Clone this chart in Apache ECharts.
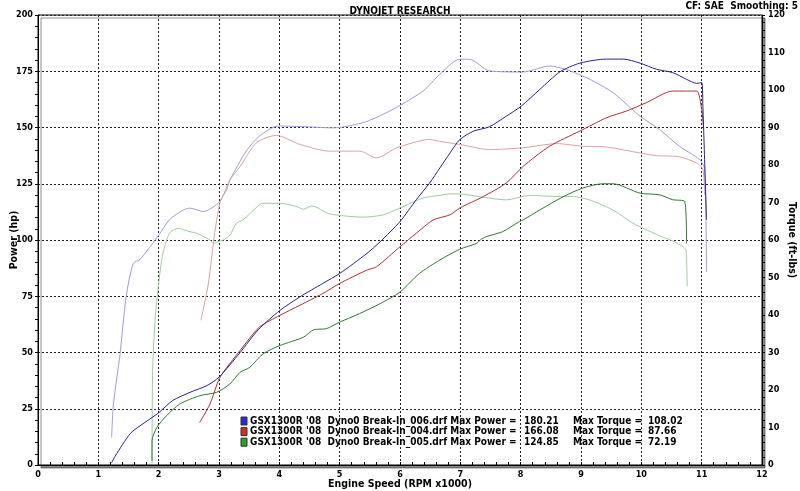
<!DOCTYPE html>
<html><head><meta charset="utf-8">
<script src="https://cdn.jsdelivr.net/npm/echarts@6/dist/echarts.min.js"></script>
<style>html,body{margin:0;padding:0;background:#fff}#c{width:800px;height:491px}</style>
</head><body><div id="c"></div>
<script>
// ---- data: [rpm x1000, value] ----
const run006Power = [[1.22,1],[1.28,4],[1.53,14],[1.69,17.4],[1.99,23],[2.23,28.6],[2.52,32.3],[2.80,35.3],[3.00,39],[3.35,50],[3.65,60.1],[4.01,68.7],[4.34,74.7],[4.72,80.7],[5.00,85.1],[5.45,94],[5.67,99.2],[6.00,108.2],[6.27,117.9],[6.49,125.3],[6.66,132],[6.83,138.7],[6.99,144.6],[7.22,148.4],[7.48,150.3],[7.76,155],[8.01,159.5],[8.32,167],[8.65,174.7],[8.98,178.6],[9.42,180.4],[9.70,180.4],[9.98,178.6],[10.25,175.9],[10.52,174.4],[10.75,171.4],[10.92,169.6],[11.00,170],[11.02,159.5],[11.08,109]];
const run006Torque = [[1.22,7.3],[1.25,16.2],[1.36,29.6],[1.46,44.8],[1.58,53.8],[1.69,54.8],[2.00,61.3],[2.18,65.4],[2.41,68],[2.52,68.5],[2.74,67.6],[3.01,70.2],[3.18,76],[3.45,83.7],[3.67,87.7],[3.98,90.4],[4.45,90.2],[4.89,89.9],[5.39,91.3],[5.83,94.4],[6.38,99.7],[6.66,104.2],[6.99,108.2],[7.15,108.2],[7.48,105.1],[8.04,104.8],[8.48,106.4],[8.75,105.5],[9.14,102.9],[9.53,99.3],[9.98,93],[10.30,89.5],[10.63,85],[10.97,81.4],[11.05,78.8],[11.08,51.5]];
const run004Power = [[2.68,18.9],[2.85,27.1],[2.99,37.5],[3.07,41.2],[3.35,50.9],[3.67,61.3],[4.01,66.5],[4.34,71],[4.72,76.2],[5.00,80.7],[5.45,86.6],[5.61,88.1],[6.00,97],[6.27,103],[6.55,108.9],[6.83,111.2],[6.99,114.2],[7.38,119.3],[7.76,125.3],[8.04,132.7],[8.48,141.7],[8.98,148.4],[9.42,154.3],[9.75,157.3],[10.08,161],[10.52,166.2],[10.75,166.2],[10.92,166.2],[11.00,158],[11.03,150]];
const run004Torque = [[2.70,38.6],[2.82,48],[2.93,62],[3.03,70.7],[3.13,73.4],[3.18,76],[3.35,79.6],[3.62,85.9],[3.95,87.9],[4.34,85.5],[4.83,83.7],[5.33,83.7],[5.61,81.9],[5.95,84.6],[6.49,86.8],[6.66,86.3],[6.99,85.5],[7.48,84.1],[8.04,84.6],[8.60,85.7],[9.03,85],[9.42,84.8],[9.98,83.2],[10.25,82.5],[10.63,82.2],[10.92,80.5],[11.02,78.8],[11.05,72]];
const run005Power = [[1.89,1.8],[1.89,10.7],[1.97,16.7],[2.13,21.9],[2.35,27.1],[2.68,30.8],[2.96,32.3],[3.18,36],[3.35,41.2],[3.51,43.4],[3.73,49.4],[4.01,53.1],[4.40,56.8],[4.57,60.1],[4.78,60.6],[5.00,63.5],[5.33,67.3],[5.67,71.7],[6.00,76.9],[6.32,85.1],[6.66,91.1],[6.99,95.9],[7.27,98.5],[7.33,100],[7.43,101.5],[7.70,103.7],[7.98,108.2],[8.04,108.9],[8.32,113.4],[8.71,119.3],[9.03,123.1],[9.36,125],[9.53,125],[9.98,120.8],[10.30,120.1],[10.52,117.9],[10.72,117.1],[10.75,98.5]];
const run005Torque = [[1.89,0.2],[1.90,25.2],[1.94,38.6],[2.00,48.4],[2.07,56.4],[2.18,61.8],[2.32,63.1],[2.52,62.2],[2.63,61.8],[2.85,60],[2.91,59.1],[2.99,59.6],[3.07,60],[3.18,61.3],[3.29,64.5],[3.40,65.4],[3.67,69.4],[3.73,69.8],[4.01,69.8],[4.29,68.9],[4.40,68.2],[4.54,69.1],[4.83,67],[5.39,66.1],[5.72,66.7],[6.05,68.9],[6.38,71.2],[6.66,71.9],[6.83,72.3],[7.05,72.2],[7.38,71.4],[7.76,70.7],[8.15,71.9],[8.60,71.6],[8.86,71.6],[9.14,70.7],[9.53,68],[9.86,64.5],[10.25,61.5],[10.55,59.5],[10.69,58.2],[10.74,57.3],[10.76,47.6]];

const legendRuns = ["GSX1300R '08  Dyno0 Break-In_006.drf", "GSX1300R '08  Dyno0 Break-In_004.drf", "GSX1300R '08  Dyno0 Break-In_005.drf"];
const legendMaxPower = ["180.21", "166.08", "124.85"];
const legendMaxTorque = ["108.02", "87.66", "72.19"];

const powerColors = ['#24248c', '#a33434', '#2e7a2e'];
const torqueColors = ['#9d9ddb', '#dba2a2', '#9fcb9f'];
const swatchColors = ['#2a2ad6', '#d62a2a', '#2aa02a'];

const FONT = '"DejaVu Sans Condensed", "DejaVu Sans", sans-serif';

const chart = echarts.init(document.getElementById('c'));
const lab = {fontFamily: FONT, fontWeight: 'bold', fontSize: 9, color: '#000'};
const dashed = {show: true, lineStyle: {color: '#222', type: [2, 2], width: 1}};
const nameStyle = {fontFamily: FONT, fontWeight: 'bold', fontSize: 10.5, color: '#000'};

function line(data, color, yIdx, z) {
  return {type: 'line', data: data, yAxisIndex: yIdx, showSymbol: false, symbol: 'none',
    smooth: 0.25, lineStyle: {color: color, width: 1}, itemStyle: {color: color}, z: z, silent: true};
}

const LF = 'bold 10px ' + FONT;
const graphics = [];
legendRuns.forEach((name, i) => {
  const y = 417 + i * 10.6;
  graphics.push({type: 'rect', shape: {x: 241, y: y, width: 6, height: 8},
    style: {fill: swatchColors[i], stroke: '#333', lineWidth: 1}, z: 100});
  graphics.push({type: 'text', x: 250, y: y + 4, style: {text: name + ' Max Power =', font: LF, fill: '#000', textVerticalAlign: 'middle'}, z: 100});
  graphics.push({type: 'text', x: 524, y: y + 4, style: {text: legendMaxPower[i], font: LF, fill: '#000', textVerticalAlign: 'middle'}, z: 100});
  graphics.push({type: 'text', x: 573, y: y + 4, style: {text: 'Max Torque =', font: LF, fill: '#000', textVerticalAlign: 'middle'}, z: 100});
  graphics.push({type: 'text', x: 648, y: y + 4, style: {text: legendMaxTorque[i], font: LF, fill: '#000', textVerticalAlign: 'middle'}, z: 100});
});
graphics.push({type: 'text', right: 2, top: 1, style: {text: 'CF: SAE  Smoothing: 5', font: LF, fill: '#000'}});

chart.setOption({
  animation: false,
  backgroundColor: '#fff',
  title: {text: 'DYNOJET RESEARCH', left: 'center', top: 1,
    textStyle: {fontFamily: FONT, fontWeight: 'bold', fontSize: 10, color: '#000'}},
  grid: {left: 38, right: 38, top: 15, bottom: 26, outerBoundsMode: 'none', containLabel: false,
    show: true, borderColor: '#000', borderWidth: 1,
    backgroundColor: '#fff', shadowColor: 'rgba(0,0,0,0.45)', shadowOffsetX: 3, shadowOffsetY: 3, shadowBlur: 0},
  xAxis: {type: 'value', min: 0, max: 12, interval: 1,
    name: 'Engine Speed (RPM x1000)', nameLocation: 'middle', nameGap: 14, nameMoveOverlap: false,
    nameTextStyle: nameStyle,
    axisLine: {show: true, lineStyle: {color: '#000', width: 1}},
    axisTick: {show: true, inside: true, length: 3, lineStyle: {color: '#000'}},
    minorTick: {show: true, splitNumber: 5, length: 3, lineStyle: {color: '#000'}},
    axisLabel: Object.assign({margin: 5}, lab),
    splitLine: dashed},
  yAxis: [
    {type: 'value', min: 0, max: 200, interval: 25, position: 'left',
      name: 'Power (hp)', nameLocation: 'middle', nameGap: 18, nameRotate: 90, nameMoveOverlap: false,
      nameTextStyle: nameStyle,
      axisLine: {show: true, lineStyle: {color: '#000', width: 1}},
      axisTick: {show: true, length: 3, lineStyle: {color: '#000'}},
      minorTick: {show: true, splitNumber: 5, length: 3, lineStyle: {color: '#000'}},
      axisLabel: Object.assign({margin: 5}, lab),
      splitLine: dashed},
    {type: 'value', min: 0, max: 120, interval: 10, position: 'right',
      name: 'Torque (ft-lbs)', nameLocation: 'middle', nameGap: 24, nameRotate: -90, nameMoveOverlap: false,
      nameTextStyle: nameStyle,
      axisLine: {show: true, lineStyle: {color: '#000', width: 1}},
      axisTick: {show: true, length: 3, lineStyle: {color: '#000'}},
      minorTick: {show: true, splitNumber: 5, length: 3, lineStyle: {color: '#000'}},
      axisLabel: Object.assign({margin: 6}, lab),
      splitLine: {show: false}}
  ],
  graphic: graphics,
  series: [
    line(run006Torque, torqueColors[0], 1, 2),
    line(run004Torque, torqueColors[1], 1, 2),
    line(run005Torque, torqueColors[2], 1, 2),
    line(run005Power, powerColors[2], 0, 3),
    line(run004Power, powerColors[1], 0, 3),
    line(run006Power, powerColors[0], 0, 3)
  ]
});
</script></body></html>
